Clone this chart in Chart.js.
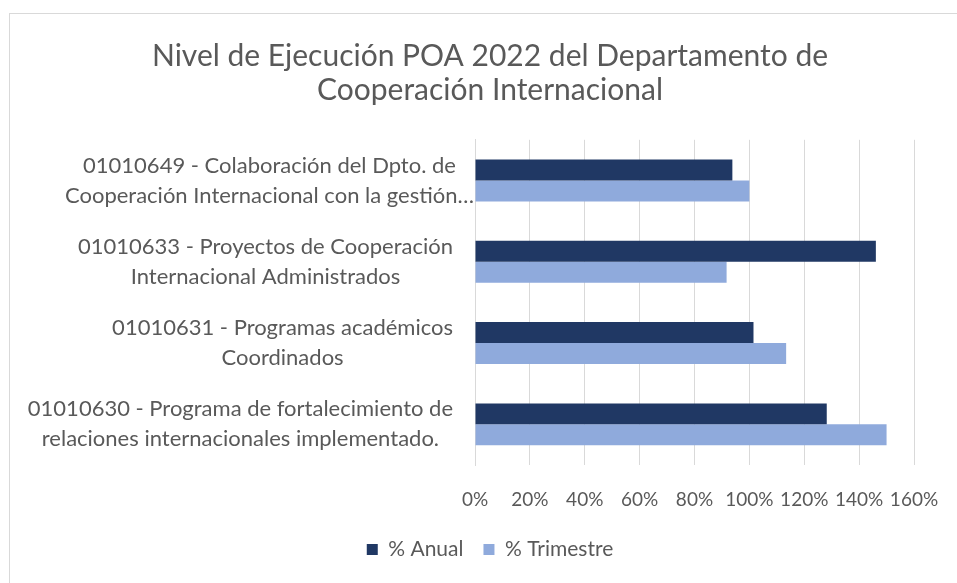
<!DOCTYPE html>
<html>
<head>
<meta charset="utf-8">
<script src="https://cdn.jsdelivr.net/npm/chart.js@4/dist/chart.umd.min.js"></script>
<style>
  html, body { margin: 0; padding: 0; background: #fff; overflow: hidden; }
  #wrap { position: relative; width: 957px; height: 583px; }
  #frame { position: absolute; left: 9px; top: 13px; width: 980px; height: 620px; border: 1px solid #d9d9d9; box-sizing: border-box; }
  #cv { position: absolute; left: 0; top: 0; }
</style>
</head>
<body>
<div id="wrap">
  <div id="frame"></div>
  <canvas id="cv" width="957" height="583"></canvas>
</div>
<script>
var categories = [
    ["01010649 - Colaboración del Dpto. de", "Cooperación Internacional con la gestión…"],
    ["01010633 - Proyectos de Cooperación", "Internacional Administrados"],
    ["01010631 - Programas académicos", "Coordinados"],
    ["01010630 - Programa de fortalecimiento de", "relaciones internacionales implementado."]
];
var anual = [93.8, 146.1, 101.5, 128.2];
var trimestre = [100, 91.7, 113.4, 150];
var seriesNames = ["% Anual", "% Trimestre"];

var textColor = "#595959";

// wrapped category labels, every line centred inside its own block
var catLabels = {
    id: "catLabels",
    afterDraw: function(chart){
        var ctx = chart.ctx;
        var sc = chart.scales.y;
        ctx.save();
        ctx.font = "22px Lato";
        ctx.fillStyle = textColor;
        ctx.textAlign = "center";
        ctx.textBaseline = "middle";
        categories.forEach(function(lines, i){
            var yc = sc.getPixelForTick(i);
            var w = 0;
            lines.forEach(function(l){ w = Math.max(w, ctx.measureText(l).width); });
            var xc = (i === 0) ? 474 - w / 2 : 453 - w / 2;
            lines.forEach(function(l, k){
                ctx.fillText(l, xc, yc + (k - (lines.length - 1) / 2) * 30);
            });
        });
        ctx.restore();
    }
};

var config = {
    type: "bar",
    data: {
        labels: categories.map(function(c){ return c.join(" "); }),
        datasets: [
            { label: seriesNames[0], data: anual, backgroundColor: "#203864" },
            { label: seriesNames[1], data: trimestre, backgroundColor: "#8faadc" }
        ]
    },
    options: {
        indexAxis: "y",
        responsive: false,
        animation: false,
        categoryPercentage: 0.515,
        barPercentage: 1.0,
        layout: { padding: { left: 66, right: 43, top: 0, bottom: 13 } },
        scales: {
            x: {
                min: 0, max: 160,
                grid: { color: "#d9d9d9", drawTicks: false },
                border: { display: false },
                ticks: {
                    stepSize: 20, padding: 23, color: textColor, maxRotation: 0,
                    font: { family: "Lato", size: 19 },
                    callback: function(v){ return v + "%"; }
                },
                afterFit: function(s){
                    s.height = 54;
                    s.paddingLeft = 0;
                    s.paddingRight = 0;
                }
            },
            y: {
                grid: { display: false },
                border: { display: true, color: "#d9d9d9" },
                ticks: { display: false },
                afterFit: function(s){ s.width = 409; }
            }
        },
        plugins: {
            title: {
                display: true,
                text: ["Nivel de Ejecución POA 2022 del Departamento de", "Cooperación Internacional"],
                color: textColor,
                font: { family: "Lato", size: 30, weight: "normal", lineHeight: 1.13 },
                padding: { top: 39, bottom: 33 }
            },
            legend: {
                position: "bottom",
                labels: {
                    color: textColor,
                    font: { family: "Lato", size: 21 },
                    boxWidth: 11, boxHeight: 11, padding: 20
                }
            },
            tooltip: { enabled: false }
        }
    },
    plugins: [catLabels]
};

var ctx = document.getElementById("cv").getContext("2d");
var chart = new Chart(ctx, config);
</script>
</body>
</html>
